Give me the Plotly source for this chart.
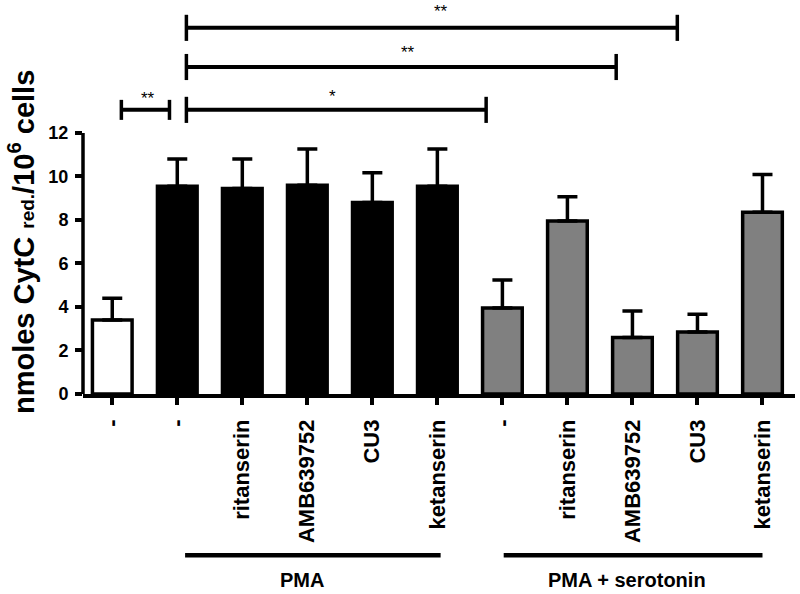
import plotly.graph_objects as go

# ---- data ----
tick_labels = ["-", "-", "ritanserin", "AMB639752", "CU3", "ketanserin",
               "-", "ritanserin", "AMB639752", "CU3", "ketanserin"]
values = [3.4, 9.55, 9.45, 9.6, 8.8, 9.55, 3.95, 7.95, 2.6, 2.85, 8.35]
sd_upper = [1.0, 1.25, 1.35, 1.66, 1.37, 1.71, 1.29, 1.12, 1.22, 0.81, 1.74]
bar_colors = ["#ffffff"] + ["#000000"] * 5 + ["#808080"] * 5

y_ticks = [0, 2, 4, 6, 8, 10, 12]

# significance brackets: (left category pos, right category pos, level, label)
brackets = [
    (0.14, 0.88, 13.06, "**"),
    (1.14, 5.75, 13.06, "*"),
    (1.14, 7.75, 15.03, "**"),
    (1.14, 8.69, 16.83, "**"),
]
star_x = [0.55, 3.38, 4.55, 5.05]
star_shift = [0, 2, 3, 5]

# treatment group lines below the axis: (start, end, label, label position)
groups = [
    (1.12, 5.05, "PMA", 2.92),
    (6.02, 10.0, "PMA + serotonin", 7.91),
]

FONT = "Liberation Sans, Arial, sans-serif"
xpos = list(range(len(values)))

fig = go.Figure()
fig.add_trace(go.Bar(
    x=xpos, y=values, width=0.61,
    marker=dict(color=bar_colors, line=dict(color="black", width=3.5)),
    error_y=dict(type="data", symmetric=False, array=sd_upper,
                 arrayminus=[0] * len(values), color="black",
                 thickness=3.5, width=10),
    showlegend=False, hoverinfo="skip",
))

shapes = []
annotations = []
# y-axis line, from 0 to 12 only
shapes.append(dict(type="line", xref="paper", yref="y", x0=0, x1=0,
                   y0=0, y1=12, line=dict(color="black", width=3.5)))

for (xl, xr, lvl, lab), sx, ss in zip(brackets, star_x, star_shift):
    h = 0.46 if xr - xl < 1 else 0.6
    shapes.append(dict(type="line", xref="x", yref="y", x0=xl, x1=xr,
                       y0=lvl, y1=lvl, line=dict(color="black", width=4)))
    for xe in (xl, xr):
        shapes.append(dict(type="line", xref="x", yref="y", x0=xe, x1=xe,
                           y0=lvl - h, y1=lvl + h,
                           line=dict(color="black", width=3.5)))
    annotations.append(dict(x=sx, y=lvl, xref="x", yref="y", text=lab,
                            showarrow=False, yanchor="bottom", yshift=ss,
                            font=dict(family=FONT, size=17, color="black")))

GROUP_LINE_Y = -0.409
GROUP_TEXT_Y = -0.472
for x0, x1, lab, tx in groups:
    shapes.append(dict(type="line", xref="x", yref="paper", x0=x0, x1=x1,
                       y0=GROUP_LINE_Y, y1=GROUP_LINE_Y,
                       line=dict(color="black", width=4.5)))
    annotations.append(dict(x=tx, y=GROUP_TEXT_Y, xref="x", yref="paper",
                            text="<b>%s</b>" % lab, showarrow=False,
                            xanchor="center", yanchor="middle",
                            font=dict(family=FONT, size=20, color="black")))

annotations.append(dict(
    x=-0.086, y=0.385, xref="paper", yref="paper", textangle=-90,
    showarrow=False, xanchor="center", yanchor="middle",
    text="<b>nmoles CytC <span style='font-size:19px'>red.</span>/10<sup>6</sup> cells</b>",
    font=dict(family=FONT, size=29, color="black")))

fig.update_layout(
    width=800, height=594,
    margin=dict(l=83, r=5, t=0, b=200, pad=0),
    paper_bgcolor="white", plot_bgcolor="white",
    shapes=shapes, annotations=annotations,
    xaxis=dict(range=[-0.45, 10.5], tickmode="array", tickvals=xpos,
               ticktext=tick_labels, tickangle=-90, showline=True,
               linecolor="black", linewidth=3.5, ticks="outside",
               ticklen=7, tickwidth=3.5, tickcolor="black",
               showgrid=False, zeroline=False, ticklabelstandoff=6,
               automargin=False,
               tickfont=dict(family=FONT, size=22, color="black", weight="bold")),
    yaxis=dict(range=[0, 18.11], tickmode="array", tickvals=y_ticks,
               showline=False, ticks="outside", ticklen=7, tickwidth=3.5,
               tickcolor="black", showgrid=False, zeroline=False,
               ticklabelstandoff=3, automargin=False,
               tickfont=dict(family=FONT, size=18, color="black", weight="bold")),
)

fig.write_html("out.html", config={"displayModeBar": False},
               post_script="document.body.style.margin='0px';")
